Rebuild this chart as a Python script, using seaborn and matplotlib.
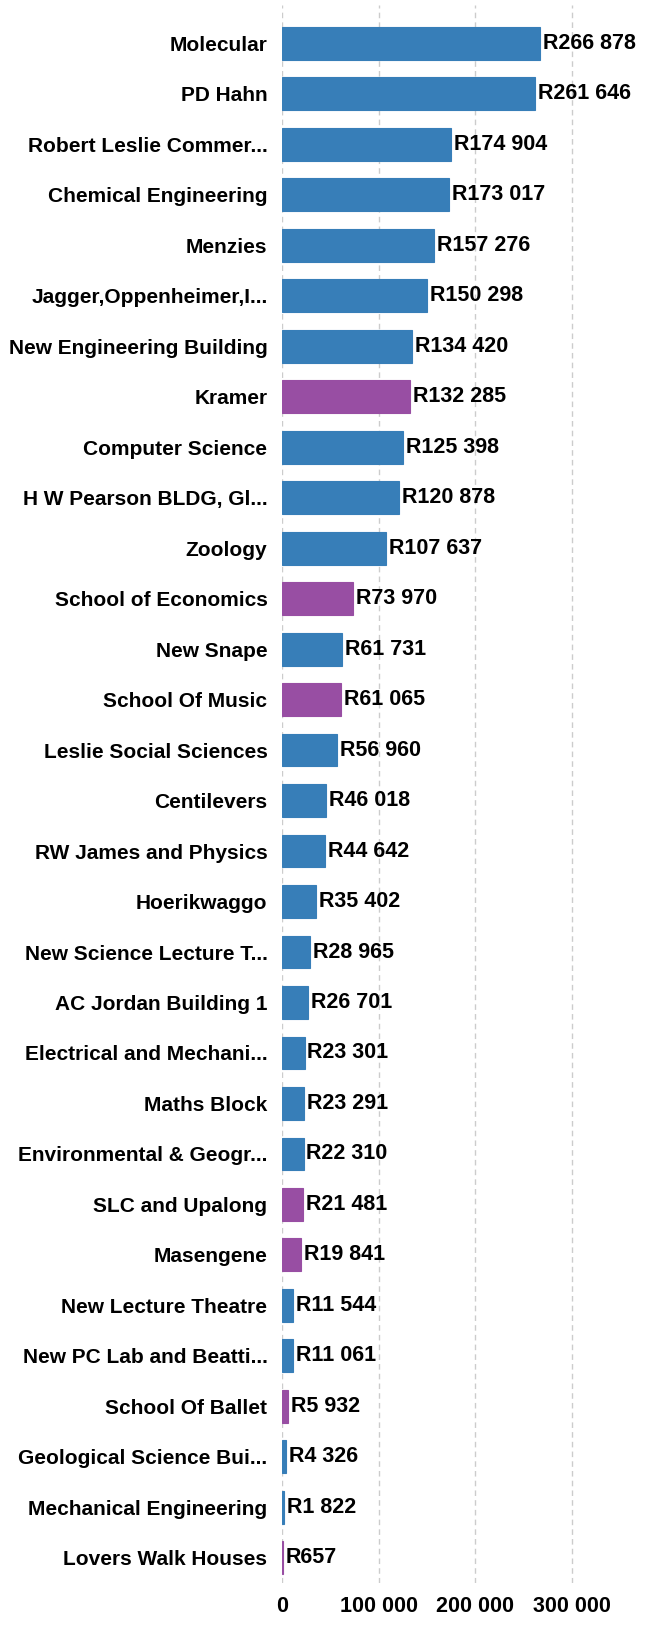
import matplotlib
matplotlib.use("Agg")
import matplotlib.pyplot as plt
import seaborn as sns
import pandas as pd

buildings = ["Molecular", "PD Hahn", "Robert Leslie Commer...", "Chemical Engineering", "Menzies",
             "Jagger,Oppenheimer,I...", "New Engineering Building", "Kramer", "Computer Science",
             "H W Pearson BLDG, Gl...", "Zoology", "School of Economics", "New Snape", "School Of Music",
             "Leslie Social Sciences", "Centilevers", "RW James and Physics", "Hoerikwaggo",
             "New Science Lecture T...", "AC Jordan Building 1", "Electrical and Mechani...",
             "Maths Block", "Environmental & Geogr...", "SLC and Upalong", "Masengene",
             "New Lecture Theatre", "New PC Lab and Beatti...", "School Of Ballet",
             "Geological Science Bui...", "Mechanical Engineering", "Lovers Walk Houses"]
costs = [266878, 261646, 174904, 173017, 157276, 150298, 134420, 132285, 125398, 120878, 107637,
         73970, 61731, 61065, 56960, 46018, 44642, 35402, 28965, 26701, 23301, 23291, 22310,
         21481, 19841, 11544, 11061, 5932, 4326, 1822, 657]
groups = ["A", "A", "A", "A", "A", "A", "A", "B", "A", "A", "A", "B", "A", "B", "A", "A", "A", "A",
          "A", "A", "A", "A", "A", "B", "B", "A", "A", "B", "A", "A", "B"]
group_colors = {"A": "#377eb8", "B": "#984ea3"}
xticks = [0, 100000, 200000, 300000]
xtick_labels = ["0", "100 000", "200 000", "300 000"]

df = pd.DataFrame({"building": buildings, "cost": costs, "group": groups})

sns.set_style("white")
plt.rcParams["font.family"] = ["Liberation Sans", "DejaVu Sans"]
plt.rcParams["font.weight"] = "bold"
plt.rcParams["text.color"] = "black"
plt.rcParams["xtick.labelcolor"] = "black"
plt.rcParams["ytick.labelcolor"] = "black"

fig = plt.figure(figsize=(6.49, 16.25), dpi=100)
ax = fig.add_axes([282 / 649, 1 - 1583 / 1625, 1 - 282 / 649, (1583 - 5) / 1625])

sns.barplot(data=df, y="building", x="cost", hue="group", palette=group_colors,
            dodge=False, orient="h", width=0.65, legend=False, ax=ax, saturation=1)
for p in ax.patches:
    p.set_edgecolor(p.get_facecolor())
    p.set_linewidth(0.8)

for i, v in enumerate(costs):
    ax.text(v + 3000, i, "R" + f"{v:,}".replace(",", " "), va="center", ha="left",
            fontsize=15.5, fontweight="bold", color="black")

ax.set_xlim(0, 380000)
ax.set_ylim(len(buildings) - 0.5, -0.76)
ax.set_xticks(xticks)
ax.set_xticklabels(xtick_labels, fontsize=15.5, fontweight="bold")
ax.set_xlabel("")
ax.set_ylabel("")
ax.tick_params(axis="y", length=0, labelsize=15, pad=10.5)
ax.tick_params(axis="x", length=2, color="#ff9900", pad=7)
for lab in ax.get_yticklabels():
    lab.set_fontweight("bold")
for s in ax.spines.values():
    s.set_visible(False)
ax.xaxis.grid(True, linestyle=(0, (4, 3)), color="#cccccc", linewidth=1)
ax.set_axisbelow(True)

fig.savefig("out.png", dpi=100)
